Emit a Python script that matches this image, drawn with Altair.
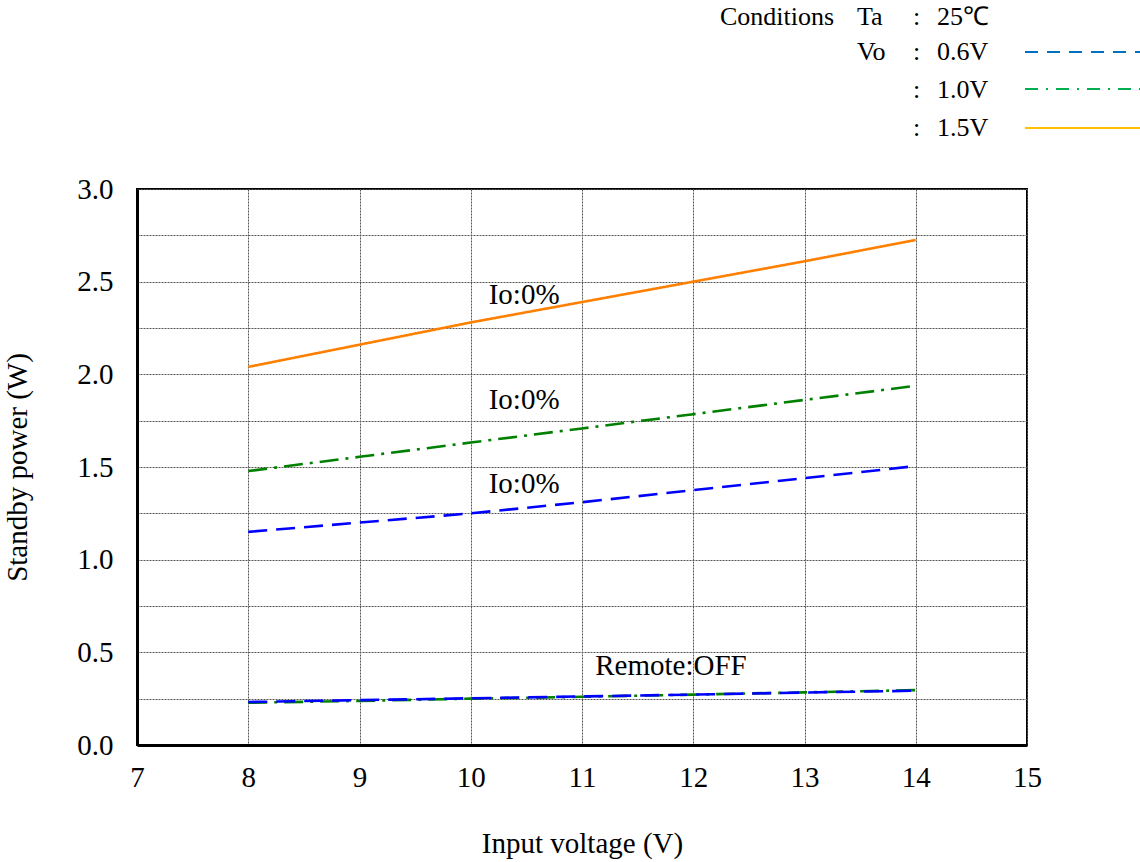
import altair as alt
import pandas as pd

# Input voltage sweep (V)
vin = [8, 9, 10, 11, 12, 13, 14]

# Standby power (W), Io = 0 %
p_06v_io0 = [1.15, 1.20, 1.25, 1.31, 1.375, 1.44, 1.505]
p_10v_io0 = [1.478, 1.555, 1.632, 1.708, 1.785, 1.862, 1.938]
p_15v_io0 = [2.04, 2.16, 2.28, 2.39, 2.50, 2.61, 2.725]

# Standby power (W), Remote OFF
p_06v_off = [0.232, 0.242, 0.252, 0.262, 0.272, 0.283, 0.293]
p_10v_off = [0.228, 0.238, 0.25, 0.26, 0.272, 0.284, 0.296]

vo_names = ["0.6V", "1.0V", "1.5V"]
line_colors = ["#0000FF", "#008000", "#FF8000"]
legend_colors = ["#0070C0", "#00B050", "#FFC000"]

FONT = "Liberation Serif"

rows = []
for key, vo, vals in [
    ("0.6V io", "0.6V", p_06v_io0),
    ("1.0V io", "1.0V", p_10v_io0),
    ("1.5V io", "1.5V", p_15v_io0),
    ("1.0V off", "1.0V", p_10v_off),
    ("0.6V off", "0.6V", p_06v_off),
]:
    for v, p in zip(vin, vals):
        rows.append({"curve": key, "vo": vo, "vin": v, "power": p})
df = pd.DataFrame(rows)

x_scale = alt.Scale(domain=[7, 15], nice=False, zero=False)
y_scale = alt.Scale(domain=[0, 3], nice=False)

y_grid_values = [i * 0.25 for i in range(13)]

base = alt.Chart(df)

lines = base.mark_line(strokeWidth=2.6, clip=True).encode(
    x=alt.X(
        "vin:Q",
        scale=x_scale,
        axis=alt.Axis(
            title="Input voltage (V)",
            values=list(range(7, 16)),
            format="d",
            grid=True,
            gridColor="#555555",
            gridDash=[2, 1],
            gridWidth=1,
            ticks=False,
            labelFlush=False,
            labelPadding=18,
            titlePadding=37,
            domainColor="black",
            domainWidth=3,
        ),
    ),
    y=alt.Y(
        "power:Q",
        scale=y_scale,
        axis=alt.Axis(
            title="Standby power (W)",
            values=y_grid_values,
            labelExpr="datum.value % 0.5 == 0 ? format(datum.value, '.1f') : ''",
            grid=True,
            gridColor="#555555",
            gridDash=[2, 1],
            gridWidth=1,
            ticks=False,
            labelFlush=False,
            labelPadding=24,
            titlePadding=44,
            domainColor="black",
            domainWidth=3,
        ),
    ),
    color=alt.Color("vo:N", scale=alt.Scale(domain=vo_names, range=line_colors), legend=None),
    strokeDash=alt.StrokeDash(
        "vo:N",
        scale=alt.Scale(domain=vo_names, range=[[19, 9], [19, 7, 3, 7], [1, 0]]),
        legend=None,
    ),
    detail="curve:N",
)

# Curve annotations
ann_text = ["Io:0%", "Io:0%", "Io:0%", "Remote:OFF"]
ann_x = [10.48, 10.48, 10.48, 11.8]
ann_y = [2.43, 1.86, 1.41, 0.425]
ann_df = pd.DataFrame({"t": ann_text, "x": ann_x, "y": ann_y})
annotations = alt.Chart(ann_df).mark_text(
    font=FONT, fontSize=29, color="black", align="center", baseline="middle"
).encode(x=alt.X("x:Q", scale=x_scale), y=alt.Y("y:Q", scale=y_scale), text="t:N")

# Conditions block above the plot
cond_df = pd.DataFrame(
    {
        "t": ["Conditions", "Ta", ":", "25℃", "Vo", ":", "0.6V", ":", "1.0V", ":", "1.5V"],
        "px": [583, 720, 776, 800, 720, 776, 800, 776, 800, 776, 800],
        "py": [-172, -172, -172, -172, -137, -137, -137, -99, -99, -61, -61],
    }
)
cond_text = alt.Chart(cond_df).mark_text(
    font=FONT, fontSize=26, color="black", align="left", baseline="middle"
).encode(
    x=alt.X("px:Q", scale=None),
    y=alt.Y("py:Q", scale=None),
    text="t:N",
)

legend_dash = [[13, 9], [13, 8, 2, 8], [1, 0]]
legend_y = [-137, -100, -61]
legend_lines = []
for col, dash, ly in zip(legend_colors, legend_dash, legend_y):
    legend_lines.append(
        alt.Chart(df.head(1))
        .mark_rule(color=col, strokeWidth=2, strokeDash=dash)
        .encode(x=alt.value(888), x2=alt.value(1003), y=alt.value(ly))
    )

chart = (
    alt.layer(lines, annotations, cond_text, *legend_lines)
    .properties(
        width=890,
        height=556,
        background="white",
        autosize=alt.AutoSizeParams(type="none"),
        padding={"left": 137, "top": 189, "right": 113, "bottom": 117},
    )
    .configure_view(stroke="black", strokeWidth=2)
    .configure_axis(
        labelFont=FONT,
        titleFont=FONT,
        labelFontSize=29,
        titleFontSize=29,
        labelColor="black",
        titleColor="black",
        titleFontWeight="normal",
    )
)

chart.save("out.html", embed_options={"renderer": "svg", "actions": False})
